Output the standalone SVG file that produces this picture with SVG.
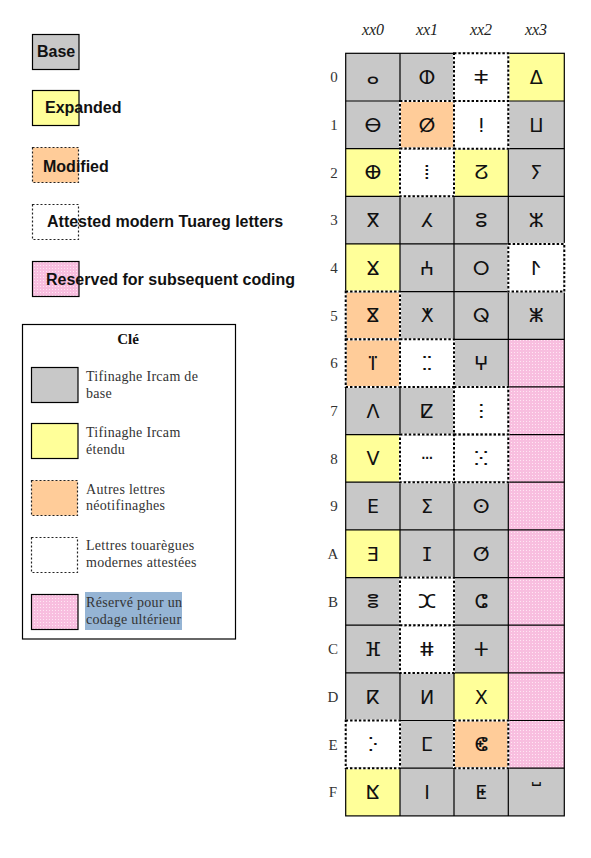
<svg xmlns="http://www.w3.org/2000/svg" width="591" height="858" viewBox="0 0 591 858">
<defs>
<pattern id="pinkdots" width="3" height="3" patternUnits="userSpaceOnUse">
<rect width="3" height="3" fill="#f8bedf"/>
<rect x="1" y="1" width="1" height="1" fill="#ffe6f3"/>
</pattern>
</defs>
<style>
.g{fill:#c8c8c8}
.y{fill:#ffff99}
.o{fill:#ffcc99}
.w{fill:#ffffff}
.p{fill:url(#pinkdots)}
.grid{stroke:#000;stroke-width:1.2;fill:none}
.dotw{fill:none;stroke:#fff;stroke-width:2}
.dot{fill:none;stroke:#000;stroke-width:2;stroke-dasharray:2.4 2}
.lsolid{stroke:#000;stroke-width:1.2}
.ldot{stroke:#222;stroke-width:1.2;stroke-dasharray:2 2}
.glyph{font-family:"DejaVu Sans","Noto Sans",sans-serif;font-size:19px;text-anchor:middle;fill:#111}
.hdr{font-family:"Liberation Serif",serif;font-style:italic;font-size:16px;text-anchor:middle;fill:#222}
.row{font-family:"Liberation Serif",serif;font-size:15px;text-anchor:middle;fill:#333}
.leg{font-family:"Liberation Sans",Arial,sans-serif;font-weight:bold;font-size:16px;fill:#111}
.key{font-family:"Liberation Serif",serif;font-size:14px;letter-spacing:0.3px;fill:#333}
.title{font-family:"Liberation Serif",serif;font-weight:bold;font-size:15px;text-anchor:middle;fill:#111}
</style>
<rect width="591" height="858" fill="#fff"/>

<!-- Top legend -->
<g id="legend-base"><rect x="32.5" y="34.5" width="46.5" height="35" class="g lsolid"/><text x="37" y="57" class="leg">Base</text></g>
<g id="legend-expanded"><rect x="32.5" y="90.5" width="46.5" height="35" class="y lsolid"/><text x="45" y="113" class="leg">Expanded</text></g>
<g id="legend-modified"><rect x="32.5" y="147.5" width="46" height="35" class="o ldot"/><text x="43" y="172" class="leg">Modified</text></g>
<g id="legend-attested"><rect x="32.5" y="204.5" width="46" height="35" class="w ldot"/><text x="47" y="227" class="leg">Attested modern Tuareg letters</text></g>
<g id="legend-reserved"><rect x="32.5" y="261.5" width="46.5" height="35" class="p lsolid"/><text x="46" y="285" class="leg">Reserved for subsequent coding</text></g>

<!-- Clé box -->
<g id="cle">
<rect x="22.5" y="324.5" width="213" height="314.5" fill="#fff" stroke="#000" stroke-width="1.2"/>
<text x="128" y="344" class="title">Clé</text>
<rect x="31.5" y="367.5" width="46.5" height="35" class="g lsolid"/>
<text x="86" y="381" class="key">Tifinaghe Ircam de</text><text x="86" y="397.5" class="key">base</text>
<rect x="31.5" y="423.5" width="46.5" height="35" class="y lsolid"/>
<text x="86" y="437" class="key">Tifinaghe Ircam</text><text x="86" y="453.5" class="key">étendu</text>
<rect x="31.5" y="480.5" width="46" height="35" class="o ldot"/>
<text x="86" y="493.5" class="key">Autres lettres</text><text x="86" y="510" class="key">néotifinaghes</text>
<rect x="31.5" y="537.5" width="46" height="35" class="w ldot"/>
<text x="86" y="550" class="key">Lettres touarègues</text><text x="86" y="566.5" class="key">modernes attestées</text>
<rect x="31.5" y="594.5" width="46.5" height="35" class="p lsolid"/>
<rect x="85" y="592" width="97" height="38" fill="#95b4d4"/>
<text x="86" y="607" class="key">Réservé pour un</text><text x="86" y="623.5" class="key">codage ultérieur</text>
</g>

<!-- Headers -->
<g id="headers">
<text x="373" y="35" class="hdr">xx0</text>
<text x="427" y="35" class="hdr">xx1</text>
<text x="481" y="35" class="hdr">xx2</text>
<text x="536" y="35" class="hdr">xx3</text>
<text x="334" y="82" class="row">0</text>
<text x="334" y="130" class="row">1</text>
<text x="334" y="177.5" class="row">2</text>
<text x="334" y="225" class="row">3</text>
<text x="334" y="273" class="row">4</text>
<text x="334" y="320.5" class="row">5</text>
<text x="334" y="368" class="row">6</text>
<text x="334" y="416" class="row">7</text>
<text x="334" y="463.5" class="row">8</text>
<text x="334" y="511" class="row">9</text>
<text x="333" y="559" class="row">A</text>
<text x="333" y="606.5" class="row">B</text>
<text x="333" y="654" class="row">C</text>
<text x="333" y="702" class="row">D</text>
<text x="333" y="749.5" class="row">E</text>
<text x="333" y="797" class="row">F</text>
</g>

<!-- Cell fills -->
<g id="cells">
<rect x="345.7" y="53.3" width="54.3" height="47.7" class="g"/>
<rect x="400" y="53.3" width="54" height="47.7" class="g"/>
<rect x="454" y="53.3" width="54.3" height="47.7" class="w"/>
<rect x="508.3" y="53.3" width="56" height="47.7" class="y"/>
<rect x="345.7" y="101" width="54.3" height="47.7" class="g"/>
<rect x="400" y="101" width="54" height="47.7" class="o"/>
<rect x="454" y="101" width="54.3" height="47.7" class="w"/>
<rect x="508.3" y="101" width="56" height="47.7" class="g"/>
<rect x="345.7" y="148.6" width="54.3" height="47.7" class="y"/>
<rect x="400" y="148.6" width="54" height="47.7" class="w"/>
<rect x="454" y="148.6" width="54.3" height="47.7" class="y"/>
<rect x="508.3" y="148.6" width="56" height="47.7" class="g"/>
<rect x="345.7" y="196.3" width="218.6" height="47.7" class="g"/>
<rect x="345.7" y="243.9" width="54.3" height="47.7" class="y"/>
<rect x="400" y="243.9" width="108.3" height="47.7" class="g"/>
<rect x="508.3" y="243.9" width="56" height="47.7" class="w"/>
<rect x="345.7" y="291.6" width="54.3" height="47.7" class="o"/>
<rect x="400" y="291.6" width="164.3" height="47.7" class="g"/>
<rect x="345.7" y="339.3" width="54.3" height="47.7" class="o"/>
<rect x="400" y="339.3" width="54" height="47.7" class="w"/>
<rect x="454" y="339.3" width="54.3" height="47.7" class="g"/>
<rect x="345.7" y="386.9" width="108.3" height="47.7" class="g"/>
<rect x="454" y="386.9" width="54.3" height="47.7" class="w"/>
<rect x="345.7" y="434.6" width="54.3" height="47.7" class="y"/>
<rect x="400" y="434.6" width="108.3" height="47.7" class="w"/>
<rect x="345.7" y="482.2" width="162.6" height="47.7" class="g"/>
<rect x="345.7" y="529.9" width="54.3" height="47.7" class="y"/>
<rect x="400" y="529.9" width="108.3" height="47.7" class="g"/>
<rect x="345.7" y="577.6" width="54.3" height="47.7" class="g"/>
<rect x="400" y="577.6" width="54" height="47.7" class="w"/>
<rect x="454" y="577.6" width="54.3" height="47.7" class="g"/>
<rect x="345.7" y="625.2" width="54.3" height="47.7" class="g"/>
<rect x="400" y="625.2" width="54" height="47.7" class="w"/>
<rect x="454" y="625.2" width="54.3" height="47.7" class="g"/>
<rect x="345.7" y="672.9" width="108.3" height="47.7" class="g"/>
<rect x="454" y="672.9" width="54.3" height="47.7" class="y"/>
<rect x="345.7" y="720.5" width="54.3" height="47.7" class="w"/>
<rect x="400" y="720.5" width="54" height="47.7" class="g"/>
<rect x="454" y="720.5" width="54.3" height="47.7" class="o"/>
<rect x="345.7" y="768.2" width="54.3" height="47.7" class="y"/>
<rect x="400" y="768.2" width="164.3" height="47.7" class="g"/>
<rect x="508.3" y="339.3" width="56" height="428.9" class="p"/>
</g>

<!-- Grid -->
<g id="grid" class="grid">
<rect x="345.7" y="53.3" width="218.6" height="762.6"/>
<path d="M400 53.3V815.9M454 53.3V815.9M508.3 53.3V815.9"/>
<path d="M345.7 101H564.3M345.7 148.6H564.3M345.7 196.3H564.3M345.7 243.9H564.3M345.7 291.6H564.3M345.7 339.3H564.3M345.7 386.9H564.3M345.7 434.6H564.3M345.7 482.2H564.3M345.7 529.9H564.3M345.7 577.6H564.3M345.7 625.2H564.3M345.7 672.9H564.3M345.7 720.5H564.3M345.7 768.2H564.3"/>
</g>

<!-- Dotted cells -->
<g id="dotted">
<g id="d-50"><rect x="454" y="53.3" width="54.3" height="47.7" class="dotw"/><rect x="454" y="53.3" width="54.3" height="47.7" class="dot"/></g>
<g id="d-41"><rect x="400" y="101" width="54" height="47.7" class="dotw"/><rect x="400" y="101" width="54" height="47.7" class="dot"/></g>
<g id="d-51"><rect x="454" y="101" width="54.3" height="47.7" class="dotw"/><rect x="454" y="101" width="54.3" height="47.7" class="dot"/></g>
<g id="d-42"><rect x="400" y="148.6" width="54" height="47.7" class="dotw"/><rect x="400" y="148.6" width="54" height="47.7" class="dot"/></g>
<g id="d-64"><rect x="508.3" y="243.9" width="56" height="47.7" class="dotw"/><rect x="508.3" y="243.9" width="56" height="47.7" class="dot"/></g>
<g id="d-35"><rect x="345.7" y="291.6" width="54.3" height="47.7" class="dotw"/><rect x="345.7" y="291.6" width="54.3" height="47.7" class="dot"/></g>
<g id="d-36"><rect x="345.7" y="339.3" width="54.3" height="47.7" class="dotw"/><rect x="345.7" y="339.3" width="54.3" height="47.7" class="dot"/></g>
<g id="d-46"><rect x="400" y="339.3" width="54" height="47.7" class="dotw"/><rect x="400" y="339.3" width="54" height="47.7" class="dot"/></g>
<g id="d-57"><rect x="454" y="386.9" width="54.3" height="47.7" class="dotw"/><rect x="454" y="386.9" width="54.3" height="47.7" class="dot"/></g>
<g id="d-48"><rect x="400" y="434.6" width="54" height="47.7" class="dotw"/><rect x="400" y="434.6" width="54" height="47.7" class="dot"/></g>
<g id="d-58"><rect x="454" y="434.6" width="54.3" height="47.7" class="dotw"/><rect x="454" y="434.6" width="54.3" height="47.7" class="dot"/></g>
<g id="d-4b"><rect x="400" y="577.6" width="54" height="47.7" class="dotw"/><rect x="400" y="577.6" width="54" height="47.7" class="dot"/></g>
<g id="d-4c"><rect x="400" y="625.2" width="54" height="47.7" class="dotw"/><rect x="400" y="625.2" width="54" height="47.7" class="dot"/></g>
<g id="d-3e"><rect x="345.7" y="720.5" width="54.3" height="47.7" class="dotw"/><rect x="345.7" y="720.5" width="54.3" height="47.7" class="dot"/></g>
<g id="d-5e"><rect x="454" y="720.5" width="54.3" height="47.7" class="dotw"/><rect x="454" y="720.5" width="54.3" height="47.7" class="dot"/></g>
</g>

<!-- Glyphs -->
<g id="glyphs" class="glyph">
<text x="372.9" y="84">ⴰ</text><text x="427" y="84">ⵀ</text><text x="481.2" y="84">ⵐ</text><text x="536.3" y="84">ⵠ</text>
<text x="372.9" y="131.7">ⴱ</text><text x="427" y="131.7">ⵁ</text><text x="481.2" y="131.7">ⵑ</text><text x="536.3" y="131.7">ⵡ</text>
<text x="372.9" y="179.3">ⴲ</text><text x="427" y="179.3">ⵂ</text><text x="481.2" y="179.3">ⵒ</text><text x="536.3" y="179.3">ⵢ</text>
<text x="372.9" y="227">ⴳ</text><text x="427" y="227">ⵃ</text><text x="481.2" y="227">ⵓ</text><text x="536.3" y="227">ⵣ</text>
<text x="372.9" y="274.6">ⴴ</text><text x="427" y="274.6">ⵄ</text><text x="481.2" y="274.6">ⵔ</text><text x="536.3" y="274.6">ⵤ</text>
<text x="372.9" y="322.3">ⴵ</text><text x="427" y="322.3">ⵅ</text><text x="481.2" y="322.3">ⵕ</text><text x="536.3" y="322.3">ⵥ</text>
<text x="372.9" y="370">ⴶ</text><text x="427" y="370">ⵆ</text><text x="481.2" y="370">ⵖ</text>
<text x="372.9" y="417.6">ⴷ</text><text x="427" y="417.6">ⵇ</text><text x="481.2" y="417.6">ⵗ</text>
<text x="372.9" y="465.3">ⴸ</text><text x="427" y="465.3">ⵈ</text><text x="481.2" y="465.3">ⵘ</text>
<text x="372.9" y="512.9">ⴹ</text><text x="427" y="512.9">ⵉ</text><text x="481.2" y="512.9">ⵙ</text>
<text x="372.9" y="560.6">ⴺ</text><text x="427" y="560.6">ⵊ</text><text x="481.2" y="560.6">ⵚ</text>
<text x="372.9" y="608.3">ⴻ</text><text x="427" y="608.3">ⵋ</text><text x="481.2" y="608.3">ⵛ</text>
<text x="372.9" y="655.9">ⴼ</text><text x="427" y="655.9">ⵌ</text><text x="481.2" y="655.9">ⵜ</text>
<text x="372.9" y="703.6">ⴽ</text><text x="427" y="703.6">ⵍ</text><text x="481.2" y="703.6">ⵝ</text>
<text x="372.9" y="751.2">ⴾ</text><text x="427" y="751.2">ⵎ</text><text x="481.2" y="751.2">ⵞ</text>
<text x="372.9" y="798.9">ⴿ</text><text x="427" y="798.9">ⵏ</text><text x="481.2" y="798.9">ⵟ</text><text x="536.3" y="796">ⵯ</text>
</g>
</svg>
